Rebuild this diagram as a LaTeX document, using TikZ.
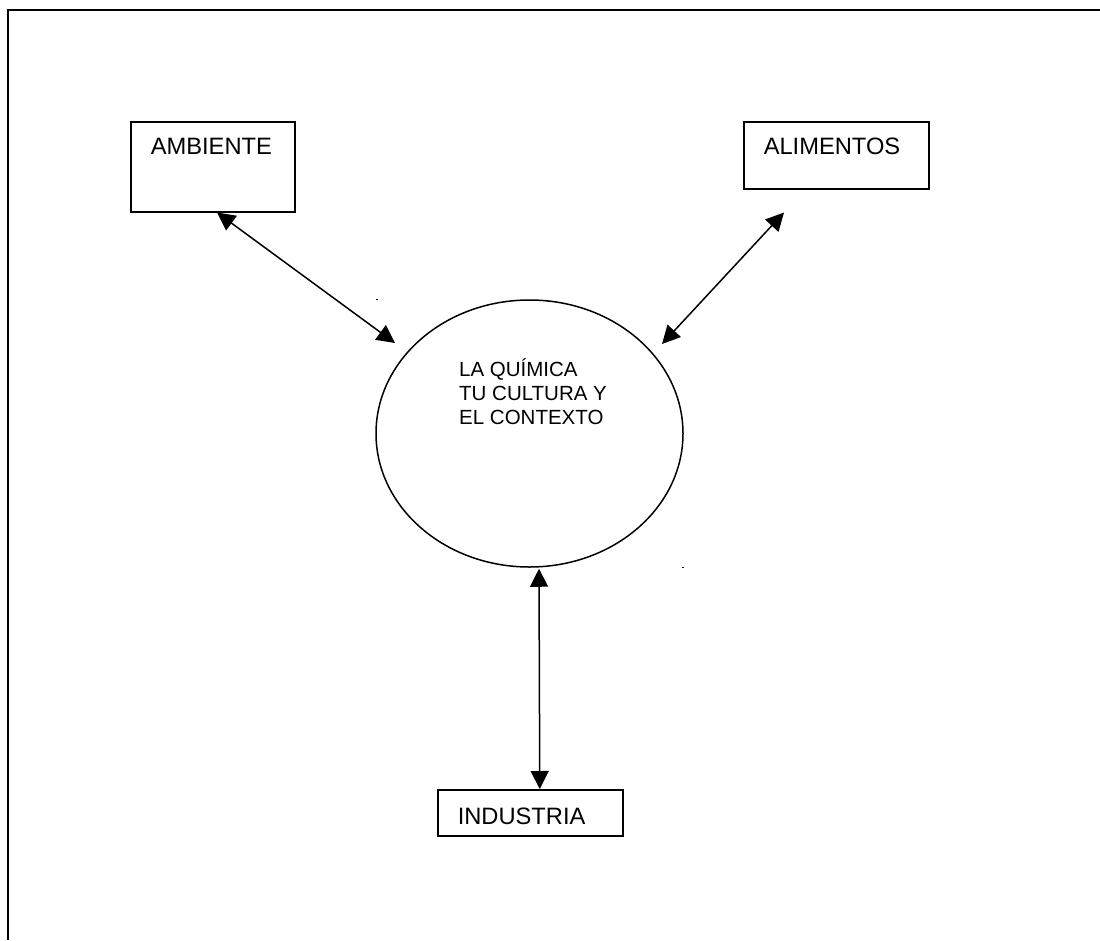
\documentclass[tikz,border=0pt]{standalone}
\usepackage{fontspec}
\setmainfont{Liberation Sans}
\usetikzlibrary{shapes.geometric,arrows.meta,calc}
\tikzset{
  box/.style={draw,line width=1.5pt,rectangle,inner xsep=20pt,inner ysep=0pt,
    align=left,anchor=north west,font=\fontsize{23.7}{28}\selectfont},
  bubble/.style={draw,line width=1.5pt,ellipse,inner sep=0pt,
    minimum width=307pt,minimum height=267pt},
  link/.style={line width=1.5pt,
    {Triangle[length=18pt,width=18pt]}-{Triangle[length=18pt,width=18pt]}}
}
\begin{document}
\begin{tikzpicture}[x=1pt,y=-1pt]
      \useasboundingbox (0,0) rectangle (1100,940);
      \draw[line width=2.2pt] (8,940) -- (8,10) -- (1100,10);
      \node[box,text width=124pt,text height=33pt,text depth=57pt] (amb) at (130,121) {AMBIENTE};
      \node[box,text width=145pt,text height=33pt,text depth=34pt] (alim) at (743,121) {ALIMENTOS};
      \node[box,text width=145pt,text height=35pt,text depth=11pt] (ind) at (437,789) {INDUSTRIA};
      \node[bubble] (chem) at (529.5,433.5) {};
      \node[anchor=north west,inner sep=0pt,align=left,font=\fontsize{20.5}{24}\selectfont]
        (chemtext) at (459,359) {LA QUÍMICA\\TU CULTURA Y\\EL CONTEXTO};
      \begin{scope}[link]
        \draw ($(amb.south west)+(87,0)$) to ($(chem.center)+(-134.5,-90.5)$);
        \draw ($(alim.south west)+(41,23)$) to ($(chem.center)+(132.5,-89.5)$);
        \draw ($(chem.south)+(9.5,1)$) to ($(ind.north)+(9.5,0)$);
      \end{scope}
      \fill (376,298.5) rectangle (378,300);
      \fill (682,566.5) rectangle (684,568);
    \end{tikzpicture}
\end{document}
